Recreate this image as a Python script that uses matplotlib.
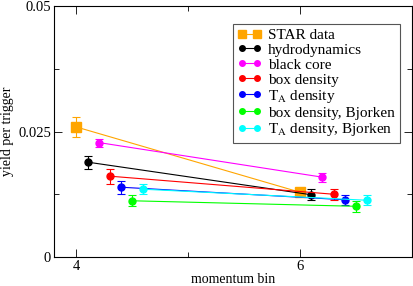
import matplotlib
matplotlib.use("Agg")
import matplotlib.pyplot as plt
from matplotlib.ticker import MultipleLocator

plt.rcParams.update({
    "font.family": ["Liberation Serif", "DejaVu Serif"], "font.size": 10,
    "axes.linewidth": 0.8, "mathtext.fontset": "stix",
})

labels = ["STAR data", "hydrodynamics", "black core", "box density",
          r"T$_\mathrm{A}$ density", "box density, Bjorken", r"T$_\mathrm{A}$ density, Bjorken"]
colors = ["#ffa500", "#000000", "#ff00ff", "#ff0000", "#0000ff", "#00ff00", "#00ffff"]
markers = ["s", "o", "o", "o", "o", "o", "o"]

# momentum bin positions (offset per model) and yields
x_vals = [[4.0, 6.0], [4.1, 6.1], [4.2, 6.2], [4.3, 6.3], [4.4, 6.4], [4.5, 6.5], [4.6, 6.6]]
y_vals = [[0.0259, 0.0129], [0.0189, 0.0124], [0.0228, 0.0159], [0.0161, 0.0125],
          [0.0139, 0.0114], [0.0112, 0.0101], [0.0135, 0.0113]]
y_errs = [[0.0020, 0.0005], [0.0013, 0.0011], [0.0008, 0.0009], [0.0015, 0.0011],
          [0.0013, 0.0010], [0.0011, 0.0011], [0.0010, 0.0010]]

fig = plt.figure(figsize=(4.14, 2.86), dpi=100)
ax = fig.add_axes([0.1304, 0.1014, 0.8646, 0.8776])

for xs, ys, es, c, m, lab in zip(x_vals, y_vals, y_errs, colors, markers, labels):
    ms = 7 if m == "s" else 5
    ax.errorbar(xs, ys, yerr=es, color=c, marker=m, markersize=ms, lw=0.8,
                elinewidth=0.8, capsize=3, capthick=0.8, label=lab)

ax.set_xlim(3.8, 7.0)
ax.set_ylim(0, 0.05)
ax.xaxis.set_major_locator(MultipleLocator(2))
ax.xaxis.set_minor_locator(MultipleLocator(1))
ax.yaxis.set_major_locator(MultipleLocator(0.025))
ax.yaxis.set_minor_locator(MultipleLocator(0.0125))
ax.yaxis.set_major_formatter(plt.FuncFormatter(lambda v, p: "0" if v == 0 else f"{v:g}"))
ax.tick_params(which="both", direction="in", top=True, right=True, width=0.6,
               labelsize=10.5, pad=2)
ax.tick_params(which="major", length=6)
ax.tick_params(which="minor", length=3.5)
ax.set_xlabel("momentum bin", labelpad=0)
ax.set_ylabel("yield per trigger", labelpad=3)

handles, labs = ax.get_legend_handles_labels()
handles = [h[0] for h in handles]
leg = ax.legend(handles, labs, loc="upper left", bbox_to_anchor=(0.5, 0.93),
                numpoints=2, fancybox=False, edgecolor="#555555", framealpha=1,
                fontsize=11, handlelength=1.6, handletextpad=0.4, labelspacing=0.08,
                borderpad=0.3, borderaxespad=0, markerscale=0.8)
leg.get_frame().set_linewidth(0.8)

fig.savefig("out.png", dpi=100)
